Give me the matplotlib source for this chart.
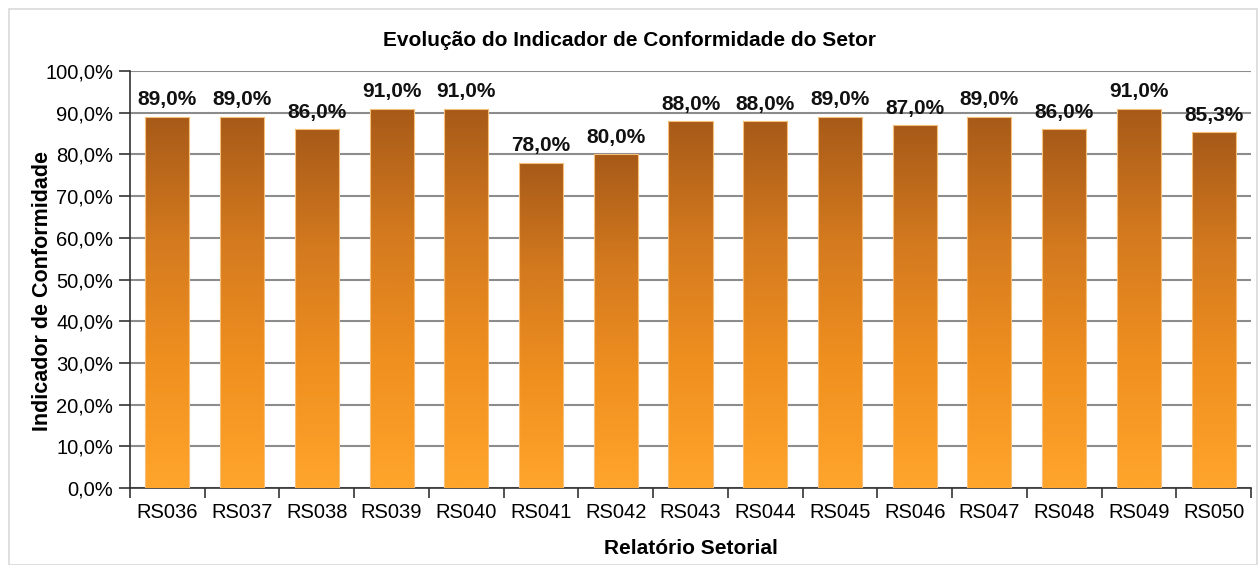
import numpy as np
import matplotlib
matplotlib.use('Agg')
import matplotlib.pyplot as plt
from matplotlib.colors import LinearSegmentedColormap
from matplotlib.patches import Rectangle

categories = ['RS036', 'RS037', 'RS038', 'RS039', 'RS040', 'RS041', 'RS042', 'RS043',
              'RS044', 'RS045', 'RS046', 'RS047', 'RS048', 'RS049', 'RS050']
values = [89.0, 89.0, 86.0, 91.0, 91.0, 78.0, 80.0, 88.0, 88.0, 89.0, 87.0, 89.0, 86.0, 91.0, 85.3]
yticks = np.arange(0, 101, 10)

plt.rcParams['font.family'] = ['Liberation Sans', 'DejaVu Sans']

fig = plt.figure(figsize=(12.58, 5.65), dpi=100)
ax = fig.add_axes([130/1258, 1-488/565, (1251-130)/1258, (488-71)/565])

# light frame around the chart area
fig.patches.append(Rectangle((9/1258, 0), 1 - 9/1258 - 1/1258, 1 - 9/565, transform=fig.transFigure,
                             fill=False, edgecolor='#d9d9d9', linewidth=1.2))

cmap = LinearSegmentedColormap.from_list('bar', ['#ffa52c', '#f0901f', '#d47a1f', '#a75a18'])
grad = np.linspace(0, 1, 256).reshape(-1, 1)

x = np.arange(len(categories))
width = 0.59
bars = ax.bar(x, values, width=width, color='none', edgecolor='none', zorder=3)
for b, v in zip(bars, values):
    x0, w = b.get_x(), b.get_width()
    im = ax.imshow(grad, cmap=cmap, origin='lower', aspect='auto',
                   extent=(x0, x0 + w, 0, v), zorder=3, interpolation='bilinear')
    im.set_clip_path(b)
    ax.add_patch(Rectangle((x0, 0), w, v, fill=False, edgecolor='#f7c07a', linewidth=0.8, zorder=4))
    ax.text(b.get_x() + w/2, v + 1.8, ('%.1f%%' % v).replace('.', ','), ha='center', va='bottom',
            fontsize=15, fontweight='bold', color='#111111', zorder=5)

ax.set_xlim(-0.5, len(categories) - 0.5)
ax.set_ylim(0, 100)
ax.set_yticks(yticks)
ax.set_yticklabels([('%.1f%%' % t).replace('.', ',') for t in yticks], fontsize=14.5)
ax.set_xticks(x)
ax.set_xticklabels(categories, fontsize=14.5)
ax.tick_params(axis='x', which='major', length=0, pad=11)
ax.set_xticks(np.arange(-0.5, len(categories), 1), minor=True)
ax.tick_params(axis='x', which='minor', length=7, width=1.2, color='#333333')
ax.tick_params(axis='y', length=8, width=1.2, color='#333333', pad=4)

ax.grid(axis='y', color='#8c8c8c', linewidth=1.5, zorder=1)
ax.set_axisbelow(True)
for s in ['top', 'right']:
    ax.spines[s].set_visible(False)
for s in ['left', 'bottom']:
    ax.spines[s].set_color('#333333')
    ax.spines[s].set_linewidth(1.2)

ax.set_xlabel('Relatório Setorial', fontsize=15, fontweight='bold', labelpad=12)
ax.set_ylabel('Indicador de Conformidade', fontsize=15.5, fontweight='bold')
ax.yaxis.set_label_coords(-0.069, 0.472)
fig.text(630/1258, 1 - 40/565, 'Evolução do Indicador de Conformidade do Setor',
         ha='center', va='center', fontsize=15, fontweight='bold')

fig.savefig('out.png', dpi=100)
